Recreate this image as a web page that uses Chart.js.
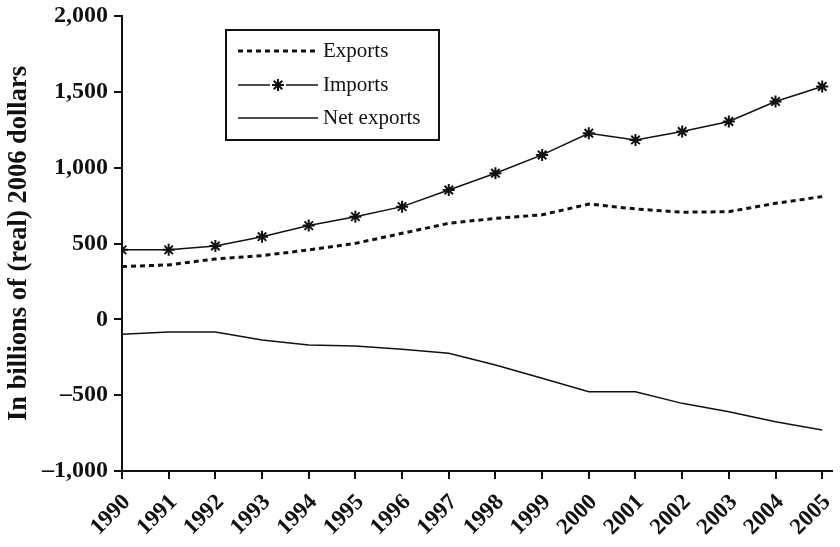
<!DOCTYPE html>
<html>
<head>
<meta charset="utf-8">
<script src="https://cdn.jsdelivr.net/npm/chart.js@4.4.0/dist/chart.umd.min.js"></script>
<style>
    html, body { margin: 0; padding: 0; background: #fff; }
    #wrap { width: 840px; height: 547px; position: relative; }
</style>
</head>
<body>
<div id="wrap"><canvas id="chart"></canvas></div>
<script>
// values, billions of (real) 2006 dollars
const years = [1990, 1991, 1992, 1993, 1994, 1995, 1996, 1997, 1998, 1999, 2000, 2001, 2002, 2003, 2004, 2005];
const exportsVals = [348, 359, 398, 420, 458, 501, 567, 633, 666, 689, 760, 728, 706, 710, 765, 809];
const importsVals = [458, 458, 484, 545, 618, 677, 743, 853, 963, 1084, 1227, 1183, 1238, 1304, 1436, 1535];
const netVals = [-99, -84, -84, -136, -169, -176, -198, -224, -301, -389, -477, -477, -554, -609, -675, -730];
const yTicks = [-1000, -500, 0, 500, 1000, 1500, 2000];
const seriesNames = ['Exports', 'Imports', 'Net exports'];
const yTitle = 'In billions of (real) 2006 dollars';

const serif = '"Liberation Serif", "Times New Roman", serif';

function pts(vals) {
    return years.map((y, i) => ({ x: y, y: vals[i] }));
}

function fmtY(v) {
    const s = Math.abs(v).toLocaleString('en-US');
    return v < 0 ? '\u2013' + s : s;
}

// legend drawn inside a framed box, like the original
const boxLegend = {
    id: 'boxLegend',
    afterDraw(chart) {
        const ctx = chart.ctx;
        const bx = 226, by = 30, bw = 213, bh = 110;
        const rows = [51, 85, 118];
        const x1 = 238, x2 = 318;
        ctx.save();
        ctx.strokeStyle = '#111';
        ctx.lineWidth = 2;
        ctx.strokeRect(bx, by, bw, bh);
        chart.data.datasets.forEach((ds, i) => {
            const y = rows[i];
            ctx.strokeStyle = ds.borderColor;
            ctx.lineWidth = ds.borderWidth;
            ctx.setLineDash(ds.borderDash || []);
            ctx.beginPath();
            ctx.moveTo(x1, y);
            ctx.lineTo(x2, y);
            ctx.stroke();
            ctx.setLineDash([]);
            if (ds.pointRadius > 0) {
                const cx = (x1 + x2) / 2;
                ctx.fillStyle = '#fff';
                ctx.fillRect(cx - 8, y - 6, 16, 12);
                ctx.strokeStyle = ds.pointBorderColor;
                ctx.fillStyle = ds.pointBackgroundColor;
                ctx.lineWidth = ds.pointBorderWidth;
                Chart.helpers.drawPoint(ctx, {
                    pointStyle: ds.pointStyle,
                    radius: ds.pointRadius,
                    rotation: 0,
                    borderWidth: ds.pointBorderWidth
                }, cx, y);
            }
            ctx.fillStyle = '#111';
            ctx.font = '21px ' + serif;
            ctx.textBaseline = 'middle';
            ctx.fillText(ds.label, x2 + 5, y);
        });
        ctx.restore();
    }
};

new Chart(document.getElementById('chart'), {
    type: 'line',
    data: {
        datasets: [
            {
                label: seriesNames[0],
                data: pts(exportsVals),
                borderColor: '#111',
                borderWidth: 3,
                borderDash: [5, 4],
                pointRadius: 0
            },
            {
                label: seriesNames[1],
                data: pts(importsVals),
                borderColor: '#111',
                borderWidth: 1.5,
                pointStyle: 'star',
                pointRadius: 6,
                pointBorderWidth: 2,
                pointBorderColor: '#111',
                pointBackgroundColor: '#111'
            },
            {
                label: seriesNames[2],
                data: pts(netVals),
                borderColor: '#111',
                borderWidth: 1.5,
                pointRadius: 0
            }
        ]
    },
    options: {
        responsive: true,
        maintainAspectRatio: false,
        animation: false,
        layout: { padding: { top: 16, right: 8, left: 0, bottom: 0 } },
        plugins: {
            legend: { display: false },
            tooltip: { enabled: false }
        },
        scales: {
            x: {
                type: 'linear',
                min: years[0],
                max: 2005.21,
                afterBuildTicks: (scale) => {
                    scale.ticks = years.map(v => ({ value: v }));
                },
                afterFit: (scale) => {
                    scale.height = 76;
                    scale.paddingLeft = 0;
                    scale.paddingRight = 0;
                },
                ticks: {
                    autoSkip: false,
                    minRotation: 45,
                    maxRotation: 45,
                    padding: 10,
                    labelOffset: 5,
                    color: '#111',
                    font: { family: serif, size: 23, weight: 'bold' },
                    callback: v => String(v)
                },
                grid: { drawOnChartArea: false, drawTicks: true, tickLength: 8, color: '#111', lineWidth: 2 },
                border: { display: true, color: '#111', width: 2 }
            },
            y: {
                min: yTicks[0],
                max: yTicks[yTicks.length - 1],
                afterBuildTicks: (scale) => {
                    scale.ticks = yTicks.map(v => ({ value: v }));
                },
                afterFit: (scale) => {
                    scale.width = 122;
                    scale.paddingTop = 0;
                    scale.paddingBottom = 0;
                },
                ticks: {
                    padding: 6,
                    color: '#111',
                    font: { family: serif, size: 24, weight: 'bold' },
                    callback: v => fmtY(v)
                },
                title: {
                    display: true,
                    text: yTitle,
                    color: '#111',
                    padding: { top: 3, bottom: 0 },
                    font: { family: serif, size: 26.5, weight: 'bold' }
                },
                grid: { drawOnChartArea: false, drawTicks: true, tickLength: 8, color: '#111', lineWidth: 2 },
                border: { display: true, color: '#111', width: 2 }
            }
        }
    },
    plugins: [boxLegend]
});
</script>
</body>
</html>
